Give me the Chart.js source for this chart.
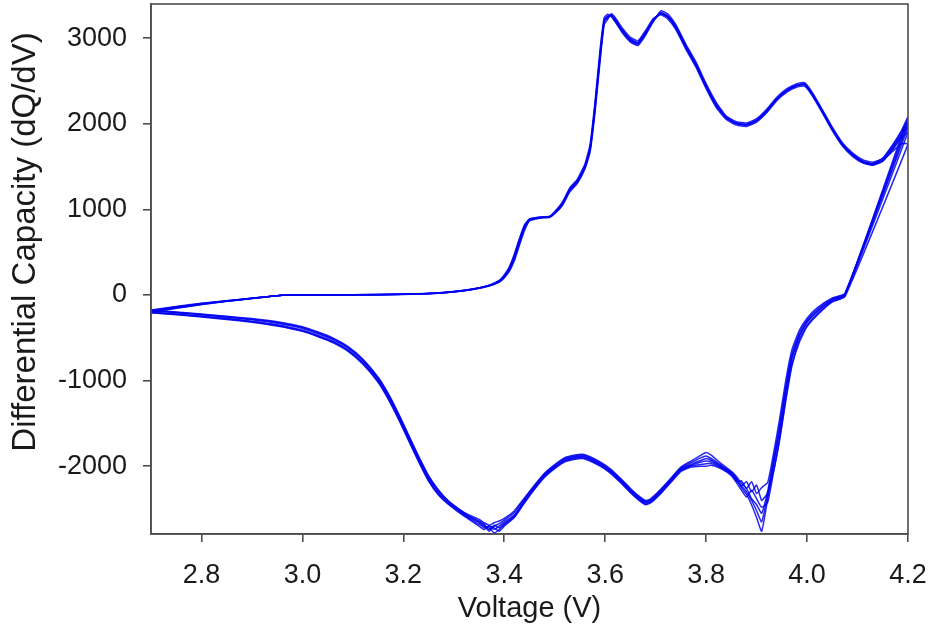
<!DOCTYPE html>
<html>
<head>
<meta charset="utf-8">
<script src="https://cdn.jsdelivr.net/npm/chart.js@4/dist/chart.umd.min.js"></script>
<style>
  html, body { margin: 0; padding: 0; background: #fff; }
  #wrap { width: 930px; height: 628px; }
</style>
</head>
<body>
<div id="wrap"><canvas id="dqdv"></canvas></div>
<script>
// dQ/dV curves, several cycles overlaid (charge 2.7 -> 4.2 V, then discharge back)

const xTicks = [2.8, 3.0, 3.2, 3.4, 3.6, 3.8, 4.0, 4.2];
const yTicks = [-2000, -1000, 0, 1000, 2000, 3000];
const xTitle = 'Voltage (V)';
const yTitle = 'Differential Capacity (dQ/dV)';

const chargeV = [
    2.70, 2.75, 2.80, 2.85, 2.90, 2.96, 3.00, 3.10, 3.20, 3.26,
    3.30, 3.34, 3.37, 3.39, 3.40, 3.41, 3.42, 3.43, 3.44, 3.45,
    3.47, 3.49, 3.50, 3.515, 3.53, 3.545, 3.56, 3.57, 3.58, 3.59,
    3.598, 3.605, 3.612, 3.62, 3.635, 3.65, 3.665, 3.68, 3.695, 3.71,
    3.725, 3.74, 3.76, 3.78, 3.80, 3.82, 3.84, 3.86, 3.88, 3.90,
    3.92, 3.94, 3.96, 3.98, 3.995, 4.01, 4.03, 4.05, 4.07, 4.09,
    4.11, 4.13, 4.15, 4.17, 4.185, 4.195, 4.20
];

const dischargeV = [
    4.075, 4.05, 4.02, 4.00, 3.985, 3.97, 3.958, 3.945, 3.933, 3.922,
    3.91, 3.90, 3.89, 3.88, 3.87, 3.86, 3.85, 3.83, 3.81, 3.80,
    3.79, 3.77, 3.75, 3.73, 3.71, 3.69, 3.68, 3.665, 3.65, 3.63,
    3.61, 3.59, 3.57, 3.555, 3.54, 3.52, 3.50, 3.48, 3.46, 3.44,
    3.42, 3.40, 3.39, 3.38, 3.37, 3.36, 3.35, 3.33, 3.31, 3.29,
    3.27, 3.25, 3.23, 3.21, 3.19, 3.17, 3.15, 3.12, 3.09, 3.06,
    3.03, 3.00, 2.95, 2.90, 2.85, 2.80, 2.75, 2.70
];

// charge branch, one array per cycle
const charge1 = [
    -180, -138, -100, -68, -38, -3, 0, 2, 8, 20,
    38, 70, 110, 160, 215, 300, 440, 620, 790, 880,
    905, 915, 960, 1060, 1230, 1330, 1500, 1700, 2200, 2800,
    3200, 3250, 3270, 3210, 3080, 2980, 2940, 3060, 3200, 3290,
    3250, 3130, 2900, 2690, 2440, 2220, 2070, 2005, 1990, 2040,
    2150, 2290, 2390, 2450, 2460, 2350, 2150, 1940, 1760, 1640,
    1565, 1535, 1600, 1760, 1900, 2020, 2080
];
const charge2 = [
    -175, -133, -97, -66, -37, -2, 0, 2, 9, 22,
    40, 74, 116, 170, 235, 330, 480, 660, 820, 890,
    910, 920, 975, 1085, 1255, 1355, 1535, 1760, 2270, 2880,
    3240, 3280, 3255, 3190, 3055, 2955, 2915, 3035, 3190, 3320,
    3280, 3160, 2930, 2720, 2470, 2250, 2090, 2025, 2010, 2060,
    2170, 2310, 2410, 2470, 2480, 2370, 2170, 1960, 1780, 1660,
    1580, 1550, 1595, 1745, 1885, 1995, 2040
];
const charge3 = [
    -200, -153, -110, -73, -42, -4, -1, 1, 7, 18,
    35, 66, 104, 150, 200, 275, 400, 580, 750, 865,
    898, 908, 950, 1045, 1205, 1305, 1475, 1670, 2140, 2740,
    3160, 3220, 3285, 3240, 3110, 3010, 2970, 3090, 3230, 3275,
    3220, 3100, 2870, 2660, 2410, 2190, 2050, 1985, 1970, 2020,
    2130, 2270, 2370, 2430, 2440, 2330, 2130, 1920, 1740, 1620,
    1545, 1515, 1565, 1715, 1855, 1955, 2000
];
const charge4 = [
    -190, -145, -104, -69, -39, -2, 0, 3, 9, 21,
    40, 72, 113, 165, 225, 315, 460, 640, 805, 885,
    908, 918, 965, 1070, 1240, 1340, 1510, 1720, 2230, 2830,
    3210, 3260, 3260, 3200, 3070, 2970, 2930, 3050, 3210, 3300,
    3260, 3140, 2910, 2700, 2450, 2230, 2075, 2010, 1995, 2045,
    2155, 2295, 2395, 2455, 2465, 2355, 2155, 1945, 1765, 1645,
    1560, 1530, 1580, 1730, 1850, 1940, 1960
];
const charge5 = [
    -205, -156, -112, -74, -42, -3, 0, 2, 8, 19,
    37, 68, 108, 155, 210, 290, 425, 600, 775, 875,
    902, 912, 958, 1055, 1220, 1320, 1490, 1690, 2180, 2780,
    3190, 3240, 3265, 3220, 3090, 2990, 2950, 3070, 3210, 3295,
    3240, 3120, 2890, 2680, 2430, 2210, 2065, 2000, 1985, 2035,
    2145, 2285, 2385, 2445, 2455, 2345, 2145, 1935, 1755, 1635,
    1550, 1520, 1565, 1700, 1820, 1880, 1900
];
const charge6 = [
    -185, -141, -102, -69, -39, -3, 0, 2, 8, 20,
    39, 71, 112, 162, 220, 310, 450, 630, 800, 882,
    906, 916, 962, 1065, 1235, 1335, 1505, 1710, 2210, 2810,
    3200, 3245, 3275, 3215, 3085, 2985, 2945, 3065, 3205, 3285,
    3245, 3125, 2895, 2685, 2435, 2215, 2070, 2005, 1990, 2040,
    2150, 2290, 2390, 2450, 2460, 2350, 2150, 1940, 1760, 1640,
    1560, 1530, 1575, 1680, 1760, 1770, 1760
];

// discharge branch, one array per cycle
const discharge1 = [
    0, -60, -200, -320, -480, -740, -1130, -1620, -2000, -2380,
    -2760, -2600, -2450, -2330, -2250, -2150, -2080, -1990, -1910, -1880,
    -1900, -1960, -2020, -2150, -2280, -2390, -2410, -2350, -2270, -2150,
    -2040, -1960, -1900, -1870, -1880, -1910, -1990, -2090, -2230, -2380,
    -2540, -2630, -2670, -2700, -2760, -2690, -2650, -2590, -2510, -2420,
    -2300, -2130, -1900, -1650, -1400, -1170, -980, -770, -620, -520,
    -450, -390, -330, -290, -260, -230, -205, -185
];
const discharge2 = [
    10, -45, -170, -290, -440, -690, -1060, -1540, -1930, -2290,
    -2550, -2450, -2380, -2260, -2200, -2120, -2060, -1970, -1870, -1840,
    -1870, -1940, -2010, -2140, -2270, -2380, -2400, -2340, -2260, -2140,
    -2030, -1950, -1890, -1860, -1870, -1900, -1980, -2080, -2220, -2370,
    -2520, -2610, -2640, -2660, -2690, -2660, -2620, -2570, -2500, -2410,
    -2280, -2110, -1880, -1630, -1380, -1150, -960, -750, -600, -500,
    -430, -370, -312, -275, -248, -222, -198, -178
];
const discharge3 = [
    -10, -75, -225, -350, -520, -800, -1200, -1700, -2070, -2310,
    -2400, -2220, -2300, -2180, -2230, -2140, -2070, -2000, -1930, -1910,
    -1930, -1980, -2030, -2160, -2290, -2400, -2420, -2360, -2280, -2160,
    -2050, -1970, -1910, -1880, -1890, -1920, -2000, -2100, -2240, -2400,
    -2570, -2650, -2700, -2740, -2700, -2720, -2660, -2600, -2520, -2430,
    -2320, -2150, -1920, -1670, -1420, -1190, -1000, -790, -640, -540,
    -470, -410, -348, -306, -273, -246, -220, -200
];
const discharge4 = [
    20, -35, -150, -270, -410, -640, -990, -1470, -1870, -2190,
    -2250, -2320, -2180, -2260, -2170, -2180, -2090, -2010, -1950, -1940,
    -1950, -1990, -2040, -2170, -2300, -2410, -2430, -2370, -2290, -2170,
    -2060, -1980, -1920, -1890, -1900, -1930, -2010, -2110, -2250, -2410,
    -2580, -2670, -2720, -2690, -2740, -2680, -2640, -2580, -2500, -2410,
    -2290, -2120, -1890, -1640, -1390, -1160, -970, -760, -610, -510,
    -440, -380, -320, -282, -253, -228, -203, -183
];
const discharge5 = [
    0, -55, -190, -310, -470, -720, -1100, -1600, -1980, -2340,
    -2650, -2520, -2400, -2300, -2230, -2160, -2100, -2020, -1970, -1970,
    -1980, -2000, -2050, -2180, -2310, -2420, -2440, -2380, -2300, -2180,
    -2070, -1990, -1930, -1900, -1910, -1940, -2020, -2120, -2260, -2420,
    -2590, -2680, -2740, -2780, -2720, -2700, -2680, -2610, -2530, -2440,
    -2330, -2165, -1935, -1685, -1435, -1205, -1010, -800, -648, -548,
    -478, -418, -355, -312, -279, -252, -226, -205
];
const discharge6 = [
    -20, -80, -235, -370, -545, -830, -1230, -1720, -2090, -2420,
    -2480, -2380, -2280, -2360, -2280, -2190, -2110, -2030, -1990, -2000,
    -2000, -2010, -2060, -2190, -2320, -2430, -2450, -2390, -2310, -2190,
    -2080, -2000, -1940, -1910, -1920, -1950, -2030, -2130, -2270, -2430,
    -2600, -2700, -2760, -2720, -2700, -2740, -2700, -2620, -2540, -2450,
    -2340, -2175, -1945, -1695, -1445, -1215, -1020, -810, -656, -555,
    -485, -425, -362, -318, -285, -257, -230, -208
];

const cycles = [
    [charge1, discharge1],
    [charge2, discharge2],
    [charge3, discharge3],
    [charge4, discharge4],
    [charge5, discharge5],
    [charge6, discharge6]
];

const LINE_BLUE = 'rgba(0, 0, 240, 0.85)';
const AXIS_GREY = '#4d4d4d';
const TEXT = '#1a1a1a';
const FONT = 'Liberation Sans, Arial, sans-serif';

// each cycle is one closed loop: charge points followed by discharge points
const datasets = cycles.map(([chg, dis], i) => ({
    label: 'Cycle ' + (i + 1),
    data: chargeV.map((v, k) => ({ x: v, y: chg[k] }))
        .concat(dischargeV.map((v, k) => ({ x: v, y: dis[k] }))),
    showLine: true,
    borderColor: LINE_BLUE,
    borderWidth: 1.5,
    pointRadius: 0,
    tension: 0.15,
    fill: false
}));

// box round the plot area, plus the vertical axis title (sits above centre in the original)
const frame = {
    id: 'frame',
    afterDraw(chart) {
        const { ctx, chartArea: a } = chart;
        ctx.save();
        ctx.strokeStyle = AXIS_GREY;
        ctx.lineWidth = 1.6;
        ctx.strokeRect(a.left, a.top, a.right - a.left, a.bottom - a.top);

        ctx.translate(26, 242);
        ctx.rotate(-Math.PI / 2);
        ctx.font = '33px ' + FONT;
        ctx.fillStyle = TEXT;
        ctx.textAlign = 'center';
        ctx.textBaseline = 'middle';
        ctx.fillText(yTitle, 0, 0);
        ctx.restore();
    }
};

new Chart(document.getElementById('dqdv'), {
    type: 'scatter',
    data: { datasets: datasets },
    plugins: [frame],
    options: {
        responsive: true,
        maintainAspectRatio: false,
        animation: false,
        layout: { padding: { top: 4, right: 22, bottom: 0, left: 0 } },
        plugins: {
            legend: { display: false },
            tooltip: { enabled: false }
        },
        scales: {
            x: {
                type: 'linear',
                min: 2.7,
                max: 4.2,
                afterBuildTicks: scale => { scale.ticks = xTicks.map(v => ({ value: v })); },
                afterFit: scale => {
                    scale.height = 94;
                    scale.paddingLeft = 0;
                    scale.paddingRight = 0;
                },
                ticks: {
                    color: TEXT,
                    font: { family: FONT, size: 27 },
                    padding: 17,
                    maxRotation: 0,
                    callback: v => v.toFixed(1)
                },
                grid: {
                    drawOnChartArea: false,
                    drawTicks: true,
                    tickLength: 8,
                    color: AXIS_GREY,
                    lineWidth: 1.6
                },
                border: { display: true, color: AXIS_GREY, width: 1.6 },
                title: {
                    display: true,
                    text: xTitle,
                    color: TEXT,
                    font: { family: FONT, size: 29 },
                    padding: { top: 0, bottom: 2 }
                }
            },
            y: {
                type: 'linear',
                min: -2792,
                max: 3400,
                afterBuildTicks: scale => { scale.ticks = yTicks.map(v => ({ value: v })); },
                afterFit: scale => {
                    scale.width = 151;
                    scale.paddingTop = 0;
                    scale.paddingBottom = 0;
                },
                ticks: {
                    color: TEXT,
                    font: { family: FONT, size: 27 },
                    padding: 16,
                    callback: v => String(v)
                },
                grid: {
                    drawOnChartArea: false,
                    drawTicks: true,
                    tickLength: 8,
                    color: AXIS_GREY,
                    lineWidth: 1.6
                },
                border: { display: true, color: AXIS_GREY, width: 1.6 },
                title: { display: false }
            }
        }
    }
});
</script>
</body>
</html>
